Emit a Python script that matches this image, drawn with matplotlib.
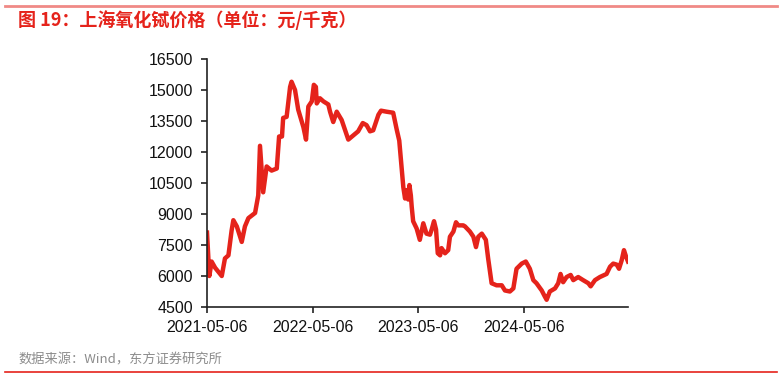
import matplotlib
matplotlib.use("Agg")
import matplotlib.pyplot as plt
import matplotlib.dates as mdates
import numpy as np
import pandas as pd

plt.rcParams['font.family'] = ['Liberation Sans', 'Noto Sans CJK SC', 'DejaVu Sans']

dates = [
    "2021-05-06", "2021-05-14", "2021-05-22", "2021-06-03", "2021-06-26", "2021-07-07",
    "2021-07-19", "2021-07-30", "2021-08-05", "2021-08-17", "2021-09-03", "2021-09-14",
    "2021-09-26", "2021-10-19", "2021-10-30", "2021-11-05", "2021-11-16", "2021-11-28",
    "2021-12-15", "2022-01-02", "2022-01-10", "2022-01-20", "2022-01-24", "2022-02-05",
    "2022-02-17", "2022-02-22", "2022-03-06", "2022-03-17", "2022-04-04", "2022-04-13",
    "2022-04-21", "2022-05-03", "2022-05-10", "2022-05-17", "2022-05-20", "2022-05-31",
    "2022-06-12", "2022-06-29", "2022-07-05", "2022-07-16", "2022-07-28", "2022-08-14",
    "2022-08-26", "2022-09-06", "2022-09-23", "2022-10-10", "2022-10-26", "2022-11-08",
    "2022-11-20", "2022-12-01", "2022-12-19", "2022-12-28", "2023-01-16", "2023-02-08",
    "2023-02-20", "2023-03-01", "2023-03-09", "2023-03-15", "2023-03-21", "2023-03-27",
    "2023-04-01", "2023-04-05", "2023-04-10", "2023-04-13", "2023-04-18", "2023-04-30",
    "2023-05-11", "2023-05-23", "2023-06-03", "2023-06-15", "2023-06-21", "2023-06-29",
    "2023-07-06", "2023-07-12", "2023-07-20", "2023-07-25", "2023-08-06", "2023-08-17",
    "2023-08-23", "2023-09-04", "2023-09-13", "2023-09-21", "2023-10-08", "2023-10-14",
    "2023-10-31", "2023-11-12", "2023-11-21", "2023-11-29", "2023-12-11", "2023-12-25",
    "2024-01-02", "2024-01-14", "2024-01-31", "2024-02-18", "2024-02-29", "2024-03-17",
    "2024-03-29", "2024-04-09", "2024-04-27", "2024-05-11", "2024-05-25", "2024-06-06",
    "2024-06-17", "2024-07-05", "2024-07-16", "2024-07-22", "2024-08-02", "2024-08-20",
    "2024-08-31", "2024-09-08", "2024-09-17", "2024-09-29", "2024-10-13", "2024-10-22",
    "2024-11-08", "2024-11-25", "2024-12-13", "2024-12-21", "2025-01-05", "2025-01-22",
    "2025-02-14", "2025-02-26", "2025-03-09", "2025-03-21", "2025-03-29", "2025-04-07",
    "2025-04-15", "2025-04-22", "2025-04-29",
]
prices = [
    8100, 6000, 6700, 6400, 6000, 6850,
    7000, 8200, 8700, 8400, 7650, 8400,
    8800, 9050, 9900, 12300, 10050, 11300,
    11100, 11200, 12750, 12750, 13650, 13700,
    15150, 15400, 15000, 14050, 13200, 12600,
    14200, 14450, 15250, 15150, 14350, 14600,
    14450, 14300, 13950, 13450, 13950, 13550,
    13050, 12600, 12800, 13000, 13400, 13300,
    13000, 13050, 13800, 14000, 13950, 13900,
    13100, 12550, 11250, 10300, 9750, 10150,
    9700, 10400, 9900, 9350, 8650, 8300,
    7750, 8550, 8050, 8000, 8250, 8650,
    8250, 7100, 7000, 7350, 7100, 7250,
    7900, 8150, 8600, 8450, 8450, 8400,
    8150, 7900, 7400, 7900, 8050, 7750,
    6850, 5650, 5550, 5550, 5300, 5250,
    5400, 6350, 6600, 6700, 6350, 5800,
    5650, 5300, 5000, 4850, 5250, 5400,
    5650, 6100, 5700, 5950, 6050, 5800,
    5950, 5800, 5650, 5500, 5800, 5950,
    6100, 6450, 6600, 6550, 6350, 6750,
    7250, 6950, 6700,
]
x_ticks = ["2021-05-06", "2022-05-06", "2023-05-06", "2024-05-06"]
y_ticks = [4500, 6000, 7500, 9000, 10500, 12000, 13500, 15000, 16500]
title = "图 19：上海氧化铽价格（单位：元/千克）"
source = "数据来源：Wind，东方证券研究所"

d = pd.to_datetime(dates)
fig = plt.figure(figsize=(7.82, 3.79), dpi=100)
ax = fig.add_axes([207/782, 1-307/379, (628-207)/782, (307-59)/379])
ax.plot(d, prices, color="#e5231b", linewidth=3.2, solid_joinstyle="round")
ax.set_xlim(pd.Timestamp("2021-05-06"), pd.Timestamp("2025-04-29"))
ax.set_ylim(4500, 16500)
ax.set_yticks(y_ticks)
ax.set_yticklabels([str(v) for v in y_ticks])
ax.set_xticks(pd.to_datetime(x_ticks))
ax.xaxis.set_major_formatter(mdates.DateFormatter("%Y-%m-%d"))
for s in ["top", "right"]:
    ax.spines[s].set_visible(False)
for s in ["left", "bottom"]:
    ax.spines[s].set_color("#222222")
    ax.spines[s].set_linewidth(1.2)
ax.tick_params(axis="both", direction="out", length=4, width=1.2, colors="#222222",
               labelsize=11.5, labelcolor="#111111")
ax.tick_params(axis="y", pad=6)
ax.tick_params(axis="x", pad=5)

fig.text(18/782, 1-20/379, title, color="#e5231b", fontsize=13, fontweight="bold",
         va="center", ha="left", family=["Noto Sans CJK SC", "DejaVu Sans"])
fig.text(18/782, 1-360/379, source, color="#8c8c8c", fontsize=9.5,
         va="center", ha="left", family=["Noto Sans CJK SC", "DejaVu Sans"])
fig.add_artist(plt.Line2D([5/782, 777/782], [1-6/379, 1-6/379], color="#f08a86", linewidth=2))
fig.add_artist(plt.Line2D([5/782, 777/782], [1-372/379, 1-372/379], color="#e5231b", linewidth=1.2))

fig.savefig("out.png", dpi=100)
